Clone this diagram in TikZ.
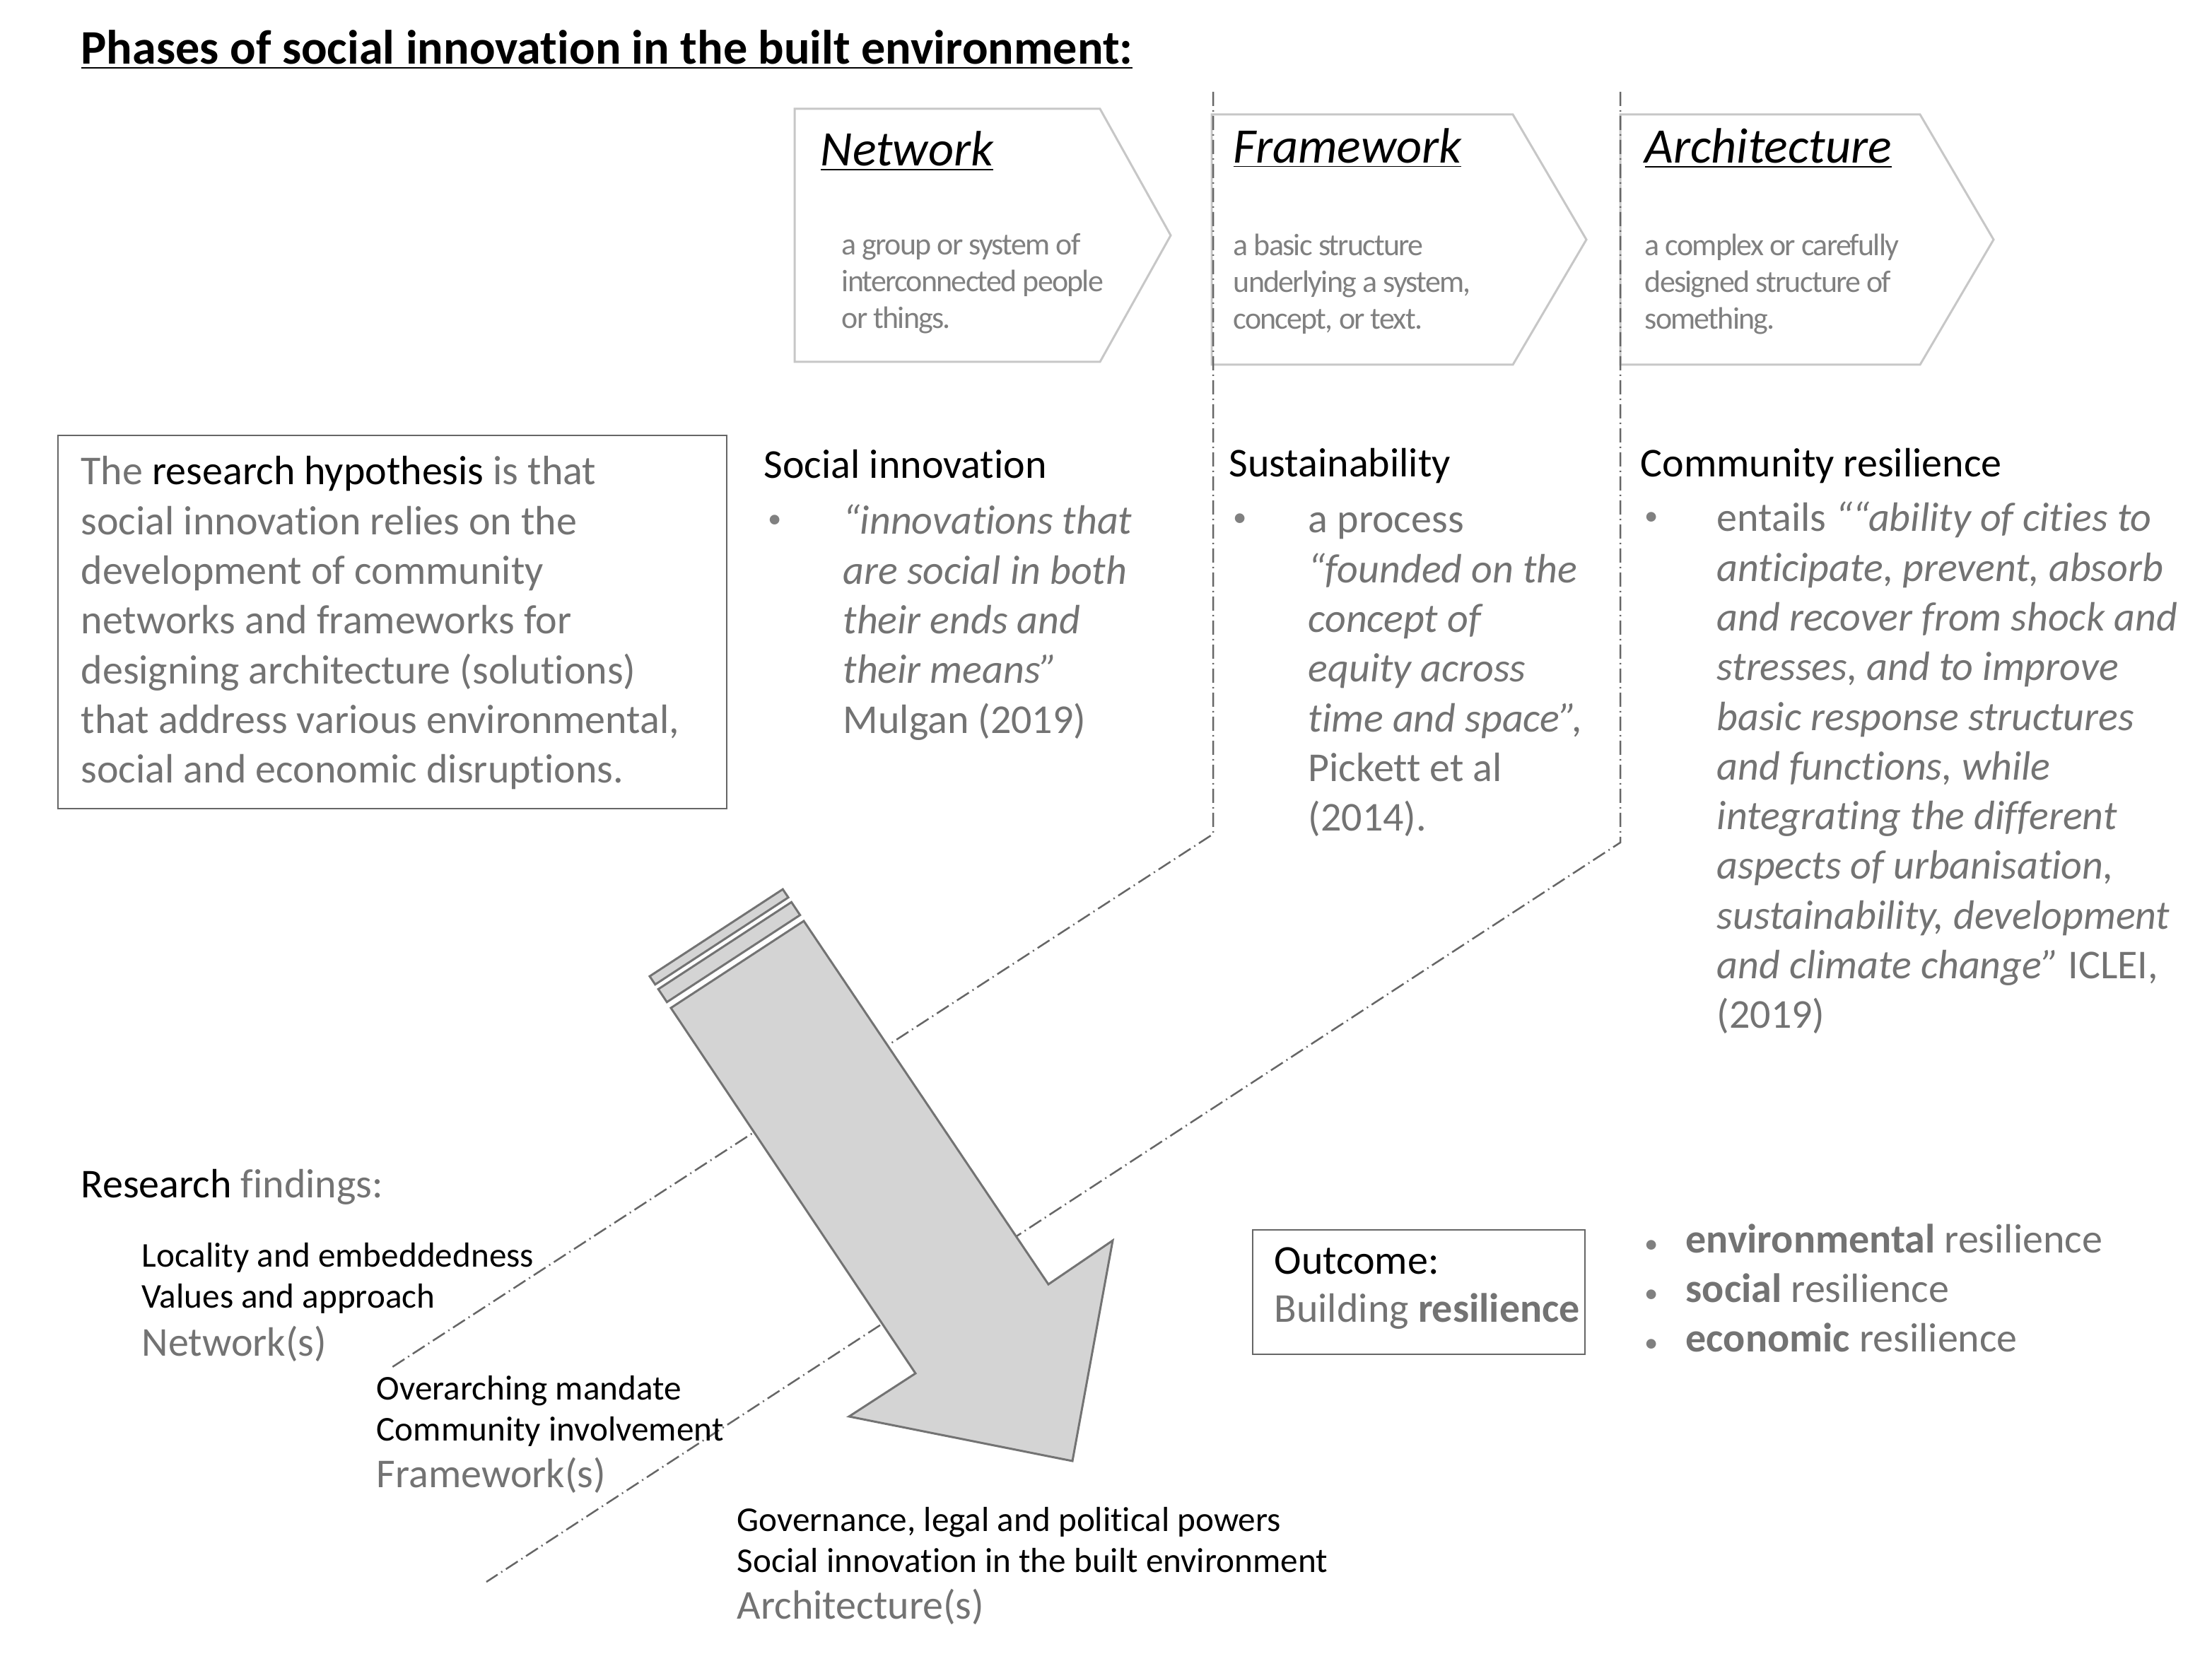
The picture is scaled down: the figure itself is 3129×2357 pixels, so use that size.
\documentclass[tikz,border=0pt]{standalone}
\usepackage{fontspec}
\setmainfont{Carlito}[Ligatures=NoCommon]
\begin{document}
\begin{tikzpicture}[x=0.1mm,y=-0.1mm,
  chev/.style={draw=black!22,line width=0.3mm},
  dd/.style={draw=black!60,line width=0.25mm,dash pattern=on 2mm off 0.6mm on 0.2mm off 0.6mm},
  body/.style={inner sep=0,align=left,font=\fontsize{16.5}{20}\selectfont,text=black!55},
  bul/.style={inner sep=0,anchor=mid west,font=\fontsize{11}{13}\selectfont,text=black!50},
  small/.style={inner sep=0,align=left,font=\fontsize{14}{16.5}\selectfont},
  desc/.style={inner sep=0,align=left,text=black!50,font=\fontsize{12.5}{14.8}\selectfont\addfontfeatures{LetterSpace=-4}},
  ctitle/.style={inner sep=0,anchor=mid west,font=\fontsize{20}{24}\selectfont\itshape}]
\useasboundingbox (0,0) rectangle (3129,2357);
\node[inner sep=0,anchor=mid west,font=\fontsize{19.4}{23}\selectfont\bfseries] (title) at (114,82) {\underline{Phases of social innovation in the built environment:}};
% chevrons
\draw[chev] (1124,154) -- (1556,154) -- (1656,333) -- (1556,512) -- (1124,512) -- cycle;
\draw[chev] (1714,162) -- (2140,162) -- (2244,339) -- (2140,516) -- (1714,516) -- cycle;
\draw[chev] (2292,162) -- (2716,162) -- (2820,339) -- (2716,516) -- (2292,516) -- cycle;
\node[ctitle] (n1) at (1160,226) {\underline{Network}};
\node[ctitle] (n2) at (1744,222) {\underline{Framework}};
\node[ctitle] (n3) at (2326,222) {\underline{Architecture}};
\node[desc,anchor=north west] (d1) at (1190,330) {a group or system of\\interconnected people\\or things.};
\node[desc,anchor=north west] (d2) at (1744,330) {a basic structure\\underlying a system,\\concept, or text.};
\node[desc,anchor=north west] (d3) at (2326,330) {a complex or carefully\\designed structure of\\something.};
% dash-dot lines
\coordinate (a1) at (1716,130); \coordinate (b1) at (1716,1180); \coordinate (c1) at (555,1934);
\coordinate (a2) at (2292,130); \coordinate (b2) at (2292,1192); \coordinate (c2) at (688,2238);
\draw[dd] (a1) -- (b1) -- (c1);
\draw[dd] (a2) -- (b2) -- (c2);
% hypothesis
\draw[draw=black!60,line width=0.25mm] (82,616) rectangle (1028,1144);
\node[body,anchor=north west] (hyp) at (114,636) {\strut The \textcolor{black}{research hypothesis} is that\\social innovation relies on the\\development of community\\networks and frameworks for\\designing architecture (solutions)\\that address various environmental,\\social and economic disruptions.};
% columns
\node[body,anchor=mid west,text=black] (h1) at (1080,668) {Social innovation};
\node[bul] (bu1) at (1086,738) {•};
\node[body,anchor=north west] (t1) at (1192,706) {\strut\itshape “innovations that\\\itshape are social in both\\\itshape their ends and\\\itshape their means”\\Mulgan (2019)};
\node[body,anchor=mid west,text=black] (h2) at (1738,666) {Sustainability};
\node[bul] (bu2) at (1744,736) {•};
\node[body,anchor=north west] (t2) at (1850,704) {\strut a process\\\itshape “founded on the\\\itshape concept of\\\itshape equity across\\\itshape time and space”,\\Pickett et al\\(2014).};
\node[body,anchor=mid west,text=black] (h3) at (2320,666) {Community resilience};
\node[bul] (bu3) at (2326,734) {•};
\node[body,anchor=north west] (t3) at (2428,702) {\strut entails \itshape ““ability of cities to\\\itshape anticipate, prevent, absorb\\\itshape and recover from shock and\\\itshape stresses, and to improve\\\itshape basic response structures\\\itshape and functions, while\\\itshape integrating the different\\\itshape aspects of urbanisation,\\\itshape sustainability, development\\\itshape and climate change” \upshape ICLEI,\\(2019)};
% arrow
\draw[fill=black!17,draw=black!55,line width=0.3mm] (919.0,1381.2) -- (926.8,1392.8) -- (1115.1,1269.7) -- (1107.3,1258.1) -- cycle;
\draw[fill=black!17,draw=black!55,line width=0.3mm] (931.2,1399.4) -- (943.4,1417.7) -- (1131.7,1294.6) -- (1119.5,1276.3) -- cycle;
\draw[fill=black!17,draw=black!55,line width=0.3mm] (949,1426) -- (1137,1303) -- (1483,1817) -- (1574,1755) -- (1517,2067) -- (1201,2004) -- (1295,1943) -- cycle;
% findings
\node[body,anchor=mid west,text=black] (rf) at (114,1686) {Research \textcolor{black!55}{findings:}};
\node[small,anchor=mid west] (f1) at (200,1784) {Locality and embeddedness};
\node[small,anchor=mid west] (f2) at (200,1842) {Values and approach};
\node[body,anchor=mid west] (f3) at (200,1910) {Network(s)};
\node[small,anchor=mid west] (g1) at (532,1972) {Overarching mandate};
\node[small,anchor=mid west] (g2) at (532,2030) {Community involvement};
\node[body,anchor=mid west] (g3) at (532,2096) {Framework(s)};
\node[small,anchor=mid west] (k1) at (1042,2158) {Governance, legal and political powers};
\node[small,anchor=mid west] (k2) at (1042,2216) {Social innovation in the built environment};
\node[body,anchor=mid west] (k3) at (1042,2282) {Architecture(s)};
% outcome
\draw[draw=black!60,line width=0.25mm] (1772,1740) rectangle (2242,1916);
\node[body,anchor=mid west,text=black] (o1) at (1802,1794) {Outcome:};
\node[body,anchor=mid west] (o2) at (1802,1862) {Building \textbf{resilience}};
\node[bul] (ob1) at (2326,1764) {•};
\node[bul] (ob2) at (2326,1834) {•};
\node[bul] (ob3) at (2326,1904) {•};
\node[body,anchor=mid west] (r1) at (2384,1764) {\textbf{environmental} resilience};
\node[body,anchor=mid west] (r2) at (2384,1834) {\textbf{social} resilience};
\node[body,anchor=mid west] (r3) at (2384,1904) {\textbf{economic} resilience};
\end{tikzpicture}
\end{document}
